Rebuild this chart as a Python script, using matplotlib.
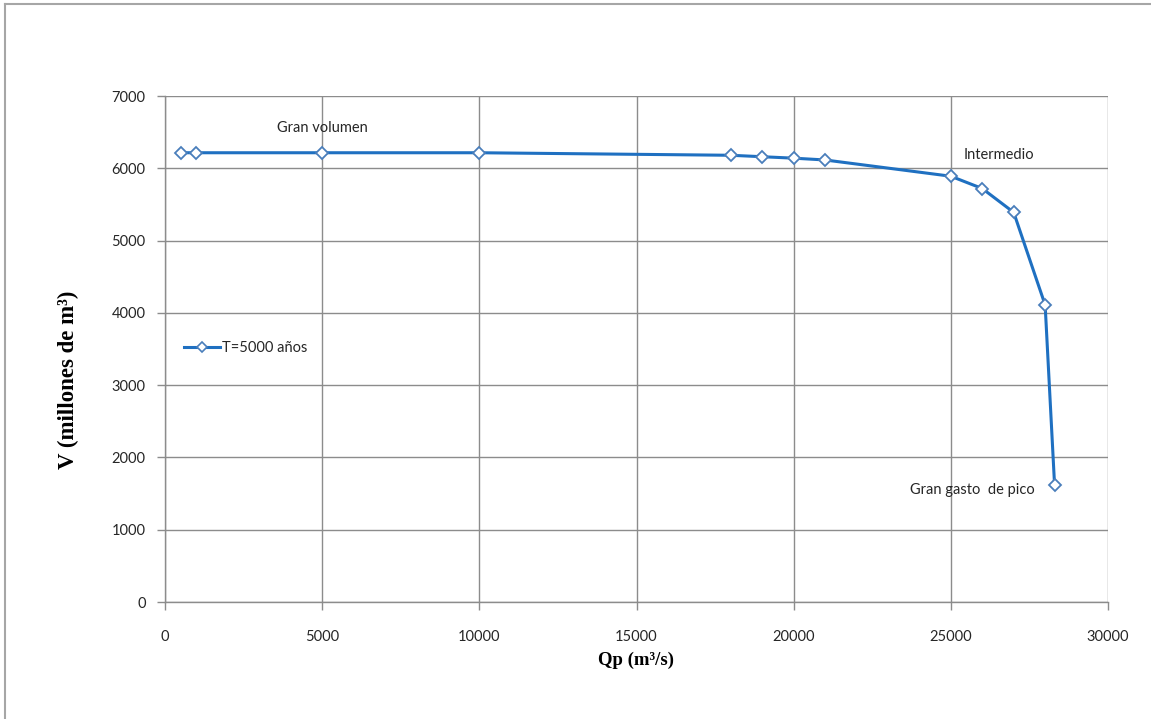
import matplotlib
matplotlib.use("Agg")
import matplotlib.pyplot as plt
from matplotlib.lines import Line2D

# data
qp = [500, 1000, 5000, 10000, 18000, 19000, 20000, 21000, 25000, 26000, 27000, 28000, 28300]
vol = [6215, 6215, 6215, 6215, 6180, 6160, 6140, 6115, 5890, 5720, 5390, 4110, 1620]
series_name = "T=5000 años"
x_ticks = [0, 5000, 10000, 15000, 20000, 25000, 30000]
y_ticks = [0, 1000, 2000, 3000, 4000, 5000, 6000, 7000]

tick_font = "Lato"
label_font = "Liberation Serif"
grid_col = "#8c8c8c"
text_col = "#262626"

fig = plt.figure(figsize=(11.51, 7.19), dpi=100)
ax = fig.add_axes([165/1151, 1-602/719, (1108-165)/1151, (602-96)/719])

ax.plot(qp, vol, color="#1f70c1", lw=2.2, marker="D", ms=6,
        mfc="white", mec="#4a7ebb", mew=1.3, label=series_name, zorder=3)

ax.set_xlim(0, 30000)
ax.set_ylim(0, 7000)
ax.set_xticks(x_ticks)
ax.set_yticks(y_ticks)
ax.grid(True, color=grid_col, lw=1.0)
for s in ["top", "right"]:
    ax.spines[s].set_visible(False)
for s in ["left", "bottom"]:
    ax.spines[s].set_color(grid_col)
    ax.spines[s].set_linewidth(1.0)
ax.tick_params(direction="out", length=6, color=grid_col, width=1.0,
               labelcolor=text_col, labelsize=10.5, pad=8)
for lab in ax.get_xticklabels() + ax.get_yticklabels():
    lab.set_fontfamily(tick_font)
ax.tick_params(axis="x", pad=14)

ax.set_xlabel("Qp (m³/s)", family=label_font, fontweight="bold",
              fontsize=13.5, color="black", labelpad=6)
ax.set_ylabel("V (millones de m³)", family=label_font, fontweight="bold",
              fontsize=16.5, color="black")
ax.yaxis.set_label_coords(-0.091, 0.439)

ax.text(5000, 6560, "Gran volumen", family=tick_font, fontsize=10.5,
        color=text_col, ha="center", va="center")
ax.text(25400, 6190, "Intermedio", family=tick_font, fontsize=10.5,
        color=text_col, ha="left", va="center")
ax.text(23700, 1550, "Gran gasto  de pico", family=tick_font, fontsize=10.5,
        color=text_col, ha="left", va="center")

# legend
leg_handle = Line2D([], [], color="#1f70c1", lw=2.2, marker="D", ms=5,
                    mfc="white", mec="#4a7ebb", mew=1.2)
leg = ax.legend([leg_handle], [series_name], loc="center left",
                bbox_to_anchor=(0.0, 0.502), frameon=False,
                prop={"family": tick_font, "size": 10.5},
                handlelength=2.5, handletextpad=0.1, borderaxespad=0.9)
for t in leg.get_texts():
    t.set_color(text_col)

# outer frame of the original chart area
fig.add_artist(Line2D([5/1151, 5/1151], [0, 1-4/719], color="#a6a6a6", lw=1.5,
                      transform=fig.transFigure))
fig.add_artist(Line2D([5/1151, 1], [1-4/719, 1-4/719], color="#a6a6a6", lw=1.5,
                      transform=fig.transFigure))

fig.savefig("out.png", dpi=100)
